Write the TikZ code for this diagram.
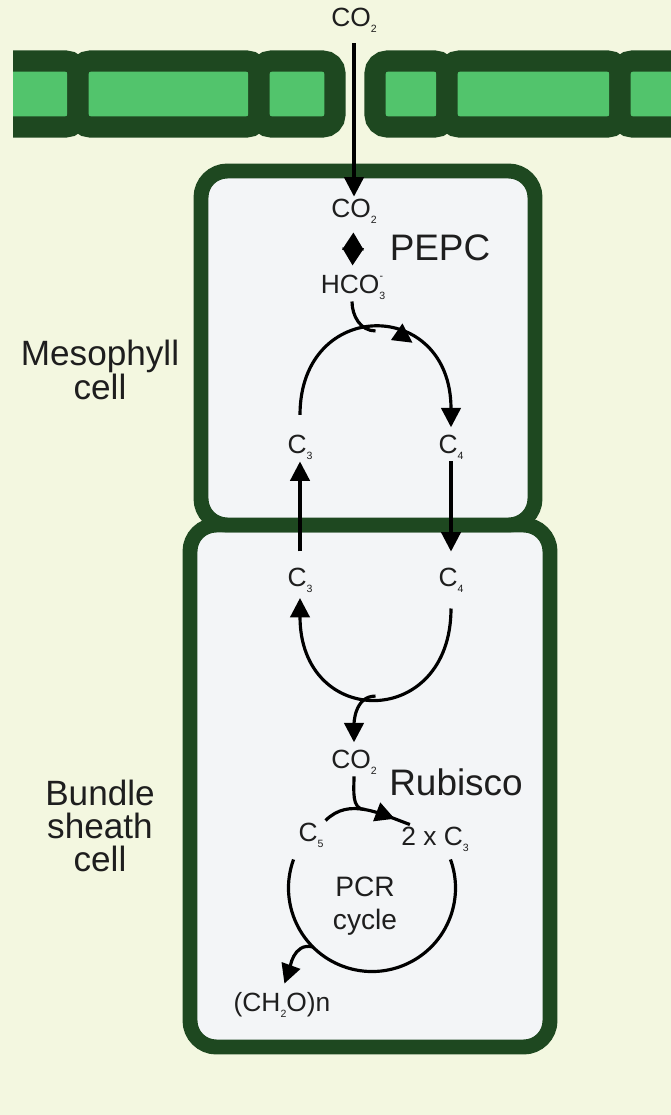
\documentclass[tikz,border=0pt]{standalone}
\usepackage{fontspec}
\setmainfont{Liberation Sans}
\usetikzlibrary{arrows.meta, decorations.markings}

\definecolor{wallgreen}{RGB}{30,72,32}
\definecolor{epigreen}{RGB}{82,196,108}
\definecolor{leafbg}{RGB}{243,247,224}
\definecolor{cellfill}{RGB}{243,245,247}
\definecolor{inktext}{RGB}{30,30,30}

\newcommand{\chsub}[1]{\raisebox{-0.45ex}{\fontsize{6}{6}\selectfont #1}}
\newcommand{\chsup}[1]{\raisebox{0.95ex}{\fontsize{6}{6}\selectfont #1}}

\begin{document}
\begin{tikzpicture}[
    x=0.02cm, y=0.02cm,
    wall/.style={
        draw=wallgreen,
        fill=cellfill,
        line width=8.5pt,
        rounded corners=15pt
    },
    epi/.style={draw=wallgreen, fill=epigreen, line width=12pt, rounded corners=7pt},
    mol/.style={inner sep=1pt, text=inktext, font=\fontsize{15}{16}\selectfont},
    enzyme/.style={inner sep=1pt, text=inktext, font=\fontsize{21}{22}\selectfont},
    celltype/.style={align=center, text=inktext, font=\fontsize{20}{19}\selectfont},
    flow/.style={line width=1.8pt},
    arrow/.style={flow, -{Triangle[length=11pt, width=11pt]}},
    midtip/.style={postaction={decorate},
        decoration={markings, mark=at position #1 with {\arrow{Triangle[length=11pt, width=11pt]}}}}
]

\useasboundingbox (0,0) rectangle (671,-1115);
\fill[leafbg] (0,0) rectangle (671,-1115);

% epidermis
\begin{scope}
    \clip (13,0) rectangle (671,-200);
    \foreach \xa/\xb in {-40/78, 78/259, 259/335, 375/447, 447/620, 620/720}
        \draw[epi] (\xa,-61) rectangle (\xb,-127);
\end{scope}

% the two cells
\draw[wall] (190,-525) rectangle (550,-1047);
\draw[wall] (201,-171) rectangle (535,-525);

\node[celltype] (meslabel) at (100,-370) {Mesophyll\\cell};
\node[celltype] (bslabel) at (100,-826) {Bundle\\sheath\\cell};

\node[mol] (co2top) at (354,-20) {CO\chsub{2}};
\node[mol] (co2m) at (354,-211) {CO\chsub{2}};
\node[mol] (hco3) at (352,-287) {HCO\chsub{3}\hspace{-3.2pt}\chsup{-}};
\node[enzyme] (pepc) at (440,-248) {PEPC};
\node[mol] (c3m) at (300,-447) {C\chsub{3}};
\node[mol] (c4m) at (451,-447) {C\chsub{4}};
\node[mol] (c3b) at (300,-580) {C\chsub{3}};
\node[mol] (c4b) at (451,-580) {C\chsub{4}};
\node[mol] (co2b) at (354,-762) {CO\chsub{2}};
\node[enzyme] (rubisco) at (456,-782) {Rubisco};
\node[mol] (c5) at (311,-835) {C\chsub{5}};
\node[mol] (twoc3) at (435,-839) {2 x C\chsub{3}};
\node[mol, align=center, font=\fontsize{16}{19}\selectfont] (pcrlabel) at (365,-906) {PCR\\cycle};
\node[mol] (ch2o) at (282,-1005) {(CH\chsub{2}O)n};

\coordinate (pcrc) at (372,-888);
\coordinate (pcrout) at (313,-947);

% mesophyll
\draw[arrow, shorten <=5pt] (co2top) -- (co2m);
\draw[flow, {Triangle[length=10pt, width=12pt]}-{Triangle[length=10pt, width=12pt]},
    shorten <=4pt, shorten >=4pt] (co2m) -- (hco3);
\draw[arrow, midtip=0.64, shorten <=10pt, shorten >=3pt]
    (c3m.north) to[out=90, in=90, looseness=2.3] coordinate[pos=0.5] (mtop) (c4m.north);
\draw[flow] (hco3.south) to[out=-90, in=180] (mtop);
\draw[arrow, shorten >=8pt] (c4m) -- (c4b);
\draw[arrow, shorten <=8pt] (c3b) -- (c3m);

% bundle sheath
\draw[arrow, shorten <=8pt, shorten >=2pt]
    (c4b.south) to[out=-90, in=-90, looseness=2.3] coordinate[pos=0.5] (lbot) (c3b.south);
\draw[arrow, shorten >=3pt] (lbot) to[out=180, in=90] (co2b.north);
\draw[flow, midtip=0.82] (c5.north east) to[out=45, in=160] coordinate[pos=0.5] (rtop) (twoc3.150);
\draw[flow] (co2b.south) to[out=-90, in=180] (rtop);
\draw[flow] (pcrc) ++(160:83.5) arc[start angle=160, end angle=380, radius=83.5];
\draw[arrow, shorten >=4pt] (pcrout) to[out=165, in=70] (ch2o.north);

\end{tikzpicture}
\end{document}
